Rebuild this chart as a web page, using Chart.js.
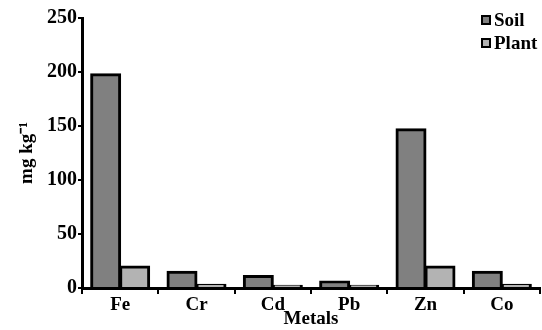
<!DOCTYPE html>
<html>
<head>
<meta charset="utf-8">
<script src="https://cdn.jsdelivr.net/npm/chart.js@4/dist/chart.umd.min.js"></script>
<style>
  html, body { margin: 0; padding: 0; background: #fff; }
  #wrap { width: 542px; height: 330px; position: relative; }
</style>
</head>
<body>
<div id="wrap"><canvas id="chart"></canvas></div>
<script>
  // metals measured, soil vs plant (mg kg-1)
  var METALS = ['Fe', 'Cr', 'Cd', 'Pb', 'Zn', 'Co'];
  var SOIL   = [198, 15, 11, 6, 147, 15];
  var PLANT  = [20, 3, 2, 2, 20, 3];
  var Y_TICKS = [0, 50, 100, 150, 200, 250];

  var FONT = "'Liberation Serif', 'Times New Roman', serif";

  // legend drawn in the top right corner, boxes + bold labels
  var cornerLegend = {
    id: 'cornerLegend',
    afterDraw: function(chart) {
      var ctx = chart.ctx;
      ctx.save();
      ctx.font = 'bold 19px ' + FONT;
      ctx.textBaseline = 'middle';
      chart.data.datasets.forEach(function(ds, i) {
        var y = 20 + i * 23;
        ctx.fillStyle = ds.backgroundColor;
        ctx.fillRect(482, y - 4, 8, 8);
        ctx.strokeStyle = '#000';
        ctx.lineWidth = 2;
        ctx.strokeRect(482, y - 4, 8, 8);
        ctx.fillStyle = '#000';
        ctx.fillText(ds.label, 494, y + 1);
      });
      ctx.restore();
    }
  };

  new Chart(document.getElementById('chart'), {
    type: 'bar',
    data: {
      labels: METALS,
      datasets: [
        { label: 'Soil',  data: SOIL,  backgroundColor: '#808080', borderColor: '#000', borderWidth: 3, borderSkipped: 'bottom', inflateAmount: 1 },
        { label: 'Plant', data: PLANT, backgroundColor: '#b3b3b3', borderColor: '#000', borderWidth: 3, borderSkipped: 'bottom', inflateAmount: 1 }
      ]
    },
    options: {
      responsive: true,
      maintainAspectRatio: false,
      animation: false,
      devicePixelRatio: 1,
      layout: { padding: { top: 18, right: 2, left: 0, bottom: 0 } },
      datasets: { bar: { categoryPercentage: 0.76, barPercentage: 1 } },
      plugins: { legend: { display: false }, tooltip: { enabled: false } },
      scales: {
        x: {
          grid: { offset: true, drawOnChartArea: false, color: '#000', lineWidth: 2, tickLength: 6 },
          border: { color: '#000', width: 3 },
          ticks: { color: '#000', font: { family: FONT, size: 19, weight: 'bold' }, padding: 0 },
          title: { display: true, text: 'Metals', color: '#000', font: { family: FONT, size: 19, weight: 'bold' }, padding: { top: -6, bottom: 0 } },
          afterFit: function(s) { s.height = 42; }
        },
        y: {
          min: 0, max: 250,
          afterBuildTicks: function(s) { s.ticks = Y_TICKS.map(function(v) { return { value: v }; }); },
          grid: { drawOnChartArea: false, color: '#000', lineWidth: 2, tickLength: 4 },
          border: { color: '#000', width: 3 },
          ticks: { color: '#000', font: { family: FONT, size: 20, weight: 'bold' }, padding: 1 },
          title: { display: true, text: 'mg kg\u207B\u00B9', color: '#000', font: { family: FONT, size: 19, weight: 'bold' }, padding: { top: 16, bottom: 0 } },
          afterFit: function(s) { s.width = 82; }
        }
      }
    },
    plugins: [cornerLegend]
  });
</script>
</body>
</html>
